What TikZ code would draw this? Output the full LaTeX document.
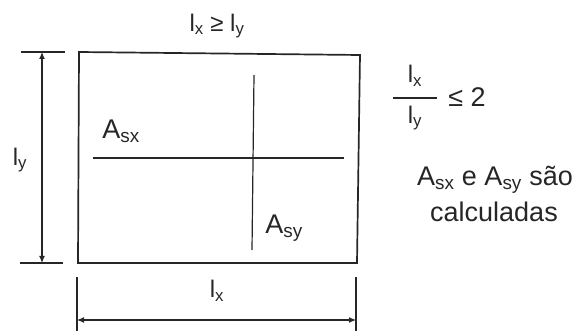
\documentclass[tikz,border=0pt]{standalone}
\usepackage{fontspec}
\setmainfont{Liberation Sans}
\usetikzlibrary{arrows.meta}
\newcommand\sbx[1]{\textsubscript{#1}}
\begin{document}
\begin{tikzpicture}[x=1pt,y=-1pt,
  ink/.style={draw=black!85, line width=1.7pt},
  thin/.style={draw=black!85, line width=1.2pt},
  dimarrow/.style={draw=black!85, line width=1.2pt, -{Latex[length=7pt,width=6pt]}},
  lbl/.style={inner sep=0pt, text=black!85, font=\fontsize{24}{28}\selectfont},
  big/.style={inner sep=0pt, text=black!85, font=\fontsize{27}{32}\selectfont}]
\useasboundingbox (0,0) rectangle (579,331);
% slab
\coordinate (p1) at (79,52);
\coordinate (p2) at (360,55);
\coordinate (p3) at (357,263);
\coordinate (p4) at (78,263);
\draw[ink] (p1) -- (p2) -- (p3) -- (p4) -- cycle;
% rebars
\coordinate (hx1) at (93,158);
\coordinate (hx2) at (344,158);
\coordinate (vy1) at (254,75);
\coordinate (vy2) at (252,250);
\draw[thin] (hx1) -- (hx2);
\draw[thin] (vy1) -- (vy2);
% vertical dimension
\coordinate (tt1) at (21,52);
\coordinate (tt2) at (65,52);
\coordinate (bt1) at (20,263);
\coordinate (bt2) at (63,263);
\coordinate (vm) at (42,158);
\coordinate (vtop) at (42,52);
\coordinate (vbot) at (42,263);
\draw[thin] (tt1) -- (tt2);
\draw[thin] (bt1) -- (bt2);
\draw[dimarrow] (vm) -- (vtop);
\draw[dimarrow] (vm) -- (vbot);
% horizontal dimension
\coordinate (lt1) at (77,277);
\coordinate (lt2) at (77,331);
\coordinate (rt1) at (356,277);
\coordinate (rt2) at (356,331);
\coordinate (hm) at (217,320);
\coordinate (hl) at (77,320);
\coordinate (hr) at (356,320);
\draw[thin] (lt1) -- (lt2);
\draw[thin] (rt1) -- (rt2);
\draw[dimarrow] (hm) -- (hl);
\draw[dimarrow] (hm) -- (hr);
% labels
\node[lbl] (top) at (217,26) {l\sbx{x} ≥ l\sbx{y}};
\node[lbl] (ly) at (20,160) {l\sbx{y}};
\node[lbl] (lx) at (217,291) {l\sbx{x}};
\node[big] (asx) at (121,131) {A\sbx{sx}};
\node[big] (asy) at (284,228) {A\sbx{sy}};
% ratio
\node[lbl] (num) at (415,76) {l\sbx{x}};
\node[lbl] (den) at (415,118) {l\sbx{y}};
\coordinate (fb1) at (393,98);
\coordinate (fb2) at (437,98);
\draw[thin] (fb1) -- (fb2);
\node[big] (le) at (467,97) {≤ 2};
\node[big] (t1) at (495,180) {A\sbx{sx} e A\sbx{sy} são};
\node[big] (t2) at (494,212) {calculadas};
\end{tikzpicture}
\end{document}
